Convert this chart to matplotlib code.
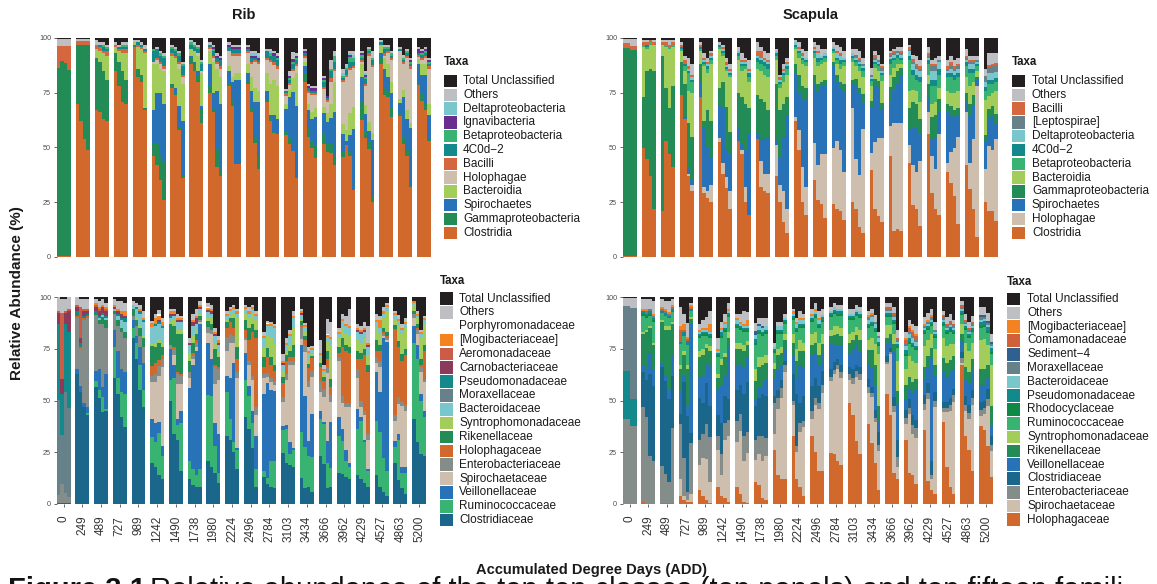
import numpy as np
import matplotlib
matplotlib.use("Agg")
import matplotlib.pyplot as plt
from matplotlib.patches import Rectangle

plt.rcParams["font.family"] = ["Liberation Sans", "DejaVu Sans"]

W, H = 1157, 584

add_labels = ["0", "249", "489", "727", "989", "1242", "1490", "1738", "1980", "2224",
              "2496", "2784", "3103", "3434", "3666", "3962", "4229", "4527", "4863", "5200"]

# samples per ADD time point
rib_bars = [4, 4, 4, 4, 4, 4, 4, 4, 4, 4, 4, 4, 4, 4, 4, 4, 4, 4, 4, 4]
scap_bars = [2, 4, 4, 4, 4, 4, 4, 4, 4, 4, 4, 4, 4, 4, 4, 4, 4, 4, 4, 4]

# ---------------- Rib, class level (stack order: bottom -> top) ----------------
rib_c_clostridia = [0.5,0.5,0.5,0.5, 70,62,54,49, 67,66,63,62, 85,78,71,70, 96,82,80,67, 46,42,35,26, 77,74,58,36, 88,85,80,61, 75,66,41,37, 78,69,42,42, 79,66,52,40, 70,62,56,56, 55,48,45,36, 80,55,50,45, 51,49,47,42, 48,52,47,31, 63,55,49,25, 88,74,73,64, 65,52,46,32, 80,72,67,53]
rib_c_gamma = [86,89,88,85, 27,35,43,48, 24,23,22,19, 8,11,14,11, 1,4,3,1, 6,10,11,18, 2,1,1,1, 3,3,3,6, 3,1,8,3, 1,3,0,0, 1,2,3,6, 1,2,1,0, 2,3,0,0, 4,4,3,6, 5,4,4,4, 3,0,2,0, 9,3,3,3, 3,3,3,4, 1,3,3,1, 1,3,3,1]
rib_c_spiro = [0,0,0,0, 0,0,0,0, 0,0,0,0, 0,0,0,0, 0,0,0,0, 15,23,29,26, 0,2,10,25, 1,1,2,2, 10,8,27,30, 6,8,38,38, 4,8,16,25, 4,1,7,7, 10,17,25,33, 3,8,10,13, 9,10,12,20, 8,2,8,28, 11,8,5,25, 2,9,6,7, 5,19,14,26, 9,9,13,11]
rib_c_bacteroidia = [0,0,0,0, 0,0,0,0, 4,5,8,11, 3,5,8,12, 1,10,12,25, 21,13,11,15, 13,14,17,17, 3,5,7,15, 6,14,10,12, 2,2,3,3, 4,6,6,5, 8,14,16,15, 2,3,6,15, 2,3,3,4, 3,4,6,14, 5,5,10,10, 6,4,4,3, 4,5,6,5, 2,3,4,2, 2,5,5,5]
rib_c_holophagae = [0,0,0,0, 0,0,0,0, 0,0,0,0, 0,0,0,0, 0,0,0,0, 1,2,2,1, 0,0,2,3, 0,0,1,1, 1,2,2,4, 7,10,8,8, 5,6,12,12, 6,10,7,8, 4,2,3,3, 2,5,8,6, 8,5,10,5, 20,25,20,18, 1,9,30,30, 0,1,5,10, 22,12,24,25, 1,2,3,16]
rib_c_bacilli = [10,7,8,11, 1.5,1.5,1.5,1.5, 2,2,1,2, 1,1,2,2, 0,1,1,1, 0,1,1,1, 1,1,1,1, 0,0,0,0, 1,1,1,1, 0,1,1,1, 1,1,1,1, 1,1,1,1, 1,1,1,1, 1,1,1,1, 1,1,2,1, 1,1,1,1, 1,1,1,1, 0,1,1,1, 0,1,1,1, 1,1,1,1]
rib_c_4c0d2 = [0,0,0,0, 0,0,0,0, 0,1,2,1, 0,1,1,1, 0,1,1,1, 5,4,3,4, 2,2,3,4, 2,2,2,3, 1,2,2,3, 2,2,2,2, 1,2,1,1, 3,2,3,3, 1,1,2,2, 1,1,1,1, 2,1,3,3, 1,2,3,2, 1,2,1,2, 1,2,1,1, 1,1,1,1, 1,1,1,1]
rib_c_beta = [0,0,0,0, 0,0,0,0, 0,0,1,1, 0,0,1,1, 0,0,0,0, 1,0,1,1, 1,1,1,1, 1,1,1,1, 0,1,0,0, 0,0,0,0, 0,0,0,0, 0,1,0,1, 0,1,1,1, 0,0,0,0, 1,0,1,3, 1,1,2,2, 1,1,1,1, 0,1,1,1, 0,1,1,1, 0,1,1,1]
rib_c_ignavi = [0,0,0,0, 0,0,0,0, 0,0,0,0, 0,0,0,0, 0,0,0,0, 0,0,0,0, 0,0,0,0, 0,0,0,0, 0,1,1,1, 1,1,1,1, 1,1,1,1, 0,0,1,1, 0,1,1,1, 1,1,1,1, 1,1,0,0, 0,0,1,0, 1,1,0,0, 0,0,0,0, 0,0,0,1, 2,1,1,1]
rib_c_delta = [0,0,0,0, 0,0,0,0, 0,0,0,0, 0,0,0,0, 0,0,0,0, 0,0,0,0, 0,0,0,0, 0,0,0,0, 0,0,0,0, 0,0,0,0, 0,1,1,1, 0,1,0,0, 0,0,0,0, 0,0,0,0, 0,0,0,0, 1,1,1,1, 0,1,0,0, 0,0,0,0, 0,0,0,0, 0,0,0,0]
rib_c_others = [3,3,3,3, 1,1,1,1, 2,1,1,1, 1,1,1,1, 1,1,1,2, 0,1,1,1, 1,1,1,1, 1,1,1,1, 1,1,1,1, 1,1,1,1, 1,1,1,1, 1,1,1,1, 1,2,3,1, 1,1,1,1, 1,0,4,2, 2,1,1,2, 1,1,1,3, 1,1,1,1, 1,1,1,1, 1,1,1,1]
rib_c_unclass = [0.5,0.5,0.5,0.5, 0.5,0.5,0.5,0.5, 1,2,2,3, 2,3,2,2, 1,1,2,3, 5,4,6,7, 3,4,6,11, 1,2,3,10, 2,3,7,8, 2,3,3,3, 3,6,6,7, 5,5,6,7, 23,14,6,7, 5,21,22,22, 17,27,10,6, 15,12,6,6, 6,15,4,6, 1,3,3,6, 4,8,5,9, 4,5,4,9]

# ---------------- Scapula, class level ----------------
scap_c_clostridia = [0.5,0.5, 50,45,37,22, 21,53,47,41, 74,63,37,30, 73,29,27,25, 53,38,31,22, 53,47,25,19, 54,32,30,29, 37,25,16,11, 62,49,25,19, 35,26,24,18, 24,22,21,17, 25,22,14,11, 40,22,19,16, 47,12,13,12, 43,24,22,14, 56,29,22,19, 39,34,28,15, 42,31,22,9, 25,21,21,17]
scap_c_holophagae = [0,0, 0,0,0,0, 0,0,0,0, 0,0,1,3, 0,3,3,8, 2,5,5,8, 0,2,7,0, 0,12,8,9, 14,8,14,11, 2,9,16,13, 17,16,23,29, 26,31,28,22, 43,23,24,48, 8,31,36,39, 14,50,49,50, 8,19,17,30, 10,17,18,37, 4,14,22,40, 24,12,32,69, 15,29,28,39]
scap_c_spiro = [0,0, 0,0,0,0, 0,0,0,0, 0,1,3,2, 7,27,20,12, 15,25,13,17, 6,3,17,37, 2,10,16,17, 3,12,25,43, 20,17,31,40, 27,34,31,31, 37,27,28,37, 11,34,37,12, 21,26,23,13, 11,15,18,22, 7,17,20,12, 7,8,15,10, 23,17,14,10, 5,22,15,3, 12,13,16,7]
scap_c_gamma = [95,94, 23,41,49,63, 71,24,21,37, 15,15,20,20, 8,3,17,17, 8,12,19,10, 16,21,21,12, 18,18,17,12, 25,22,15,8, 4,8,6,5, 4,3,2,3, 2,3,3,3, 2,3,3,4, 3,3,3,3, 7,6,6,3, 10,12,11,7, 6,10,10,6, 4,4,3,3, 4,5,5,1, 3,4,4,5]
scap_c_bacteroidia = [0,0, 23,10,11,12, 5,19,27,18, 5,6,15,20, 6,25,17,26, 18,12,16,25, 15,12,16,12, 12,13,12,15, 11,10,10,10, 7,8,10,10, 8,8,8,8, 4,5,6,8, 8,6,8,8, 7,5,5,10, 6,4,3,2, 8,6,6,8, 4,6,6,5, 6,6,8,8, 7,8,6,3, 16,6,6,11]
scap_c_beta = [0,0, 1,1,1,0, 0,1,1,1, 1,2,8,5, 1,1,2,2, 1,1,1,1, 2,2,1,2, 3,3,4,4, 2,2,3,3, 1,2,2,2, 2,2,2,2, 1,2,2,2, 2,2,2,3, 2,2,2,3, 5,4,3,2, 14,7,5,9, 5,8,7,6, 6,7,6,6, 5,6,4,2, 4,5,4,4]
scap_c_4c0d2 = [0,0, 0,1,0,0, 0,0,0,0, 1,1,1,1, 1,1,1,1, 1,1,1,1, 1,1,1,2, 2,2,2,2, 1,1,1,1, 1,1,1,1, 1,2,1,1, 1,1,2,1, 1,1,1,1, 1,1,1,1, 2,1,1,1, 2,2,2,2, 2,3,3,3, 2,2,2,2, 2,2,2,1, 2,2,2,2]
scap_c_delta = [0,0, 0,0,0,0, 0,0,0,0, 0,0,1,1, 0,1,1,1, 0,1,1,1, 1,1,1,1, 1,1,1,1, 1,1,1,1, 1,1,1,1, 1,2,1,1, 1,2,2,1, 1,1,1,1, 1,1,1,1, 1,1,1,1, 2,3,3,3, 1,4,4,3, 1,2,2,2, 1,2,2,1, 2,3,3,3]
scap_c_lepto = [0,0, 0,0,0,0, 0,0,0,0, 0,0,0,0, 0,0,0,0, 0,0,0,0, 0,0,0,0, 0,0,0,0, 0,0,0,0, 0,0,0,0, 0,0,0,0, 0,0,0,0, 0,1,1,1, 1,1,1,1, 1,1,1,1, 1,1,1,1, 1,2,2,1, 1,1,1,1, 1,1,1,1, 3,3,3,3]
scap_c_bacilli = [2,2, 1,1,1,1, 1,1,1,1, 1,2,1,1, 1,1,1,1, 0,1,1,1, 0,1,1,1, 2,3,1,1, 0,1,1,1, 0,1,1,0, 1,1,0,0, 0,1,1,0, 0,0,1,0, 0,1,0,1, 1,1,0,1, 1,1,1,1, 1,1,1,0, 1,2,1,1, 1,1,1,0, 0,1,1,1]
scap_c_others = [2,3, 1,1,0,1, 1,1,2,1, 1,2,4,5, 1,2,2,1, 1,1,2,2, 2,3,1,4, 4,2,3,3, 1,1,2,2, 1,2,2,3, 2,3,3,2, 2,3,3,3, 2,3,3,3, 3,2,2,1, 1,1,2,2, 1,2,4,3, 3,2,3,2, 3,3,3,3, 3,2,2,2, 3,5,5,5]
scap_c_unclass = [0.5,0.5, 1,1,1,1, 1,1,1,1, 2,8,9,12, 2,7,9,6, 2,3,9,12, 4,7,9,10, 2,4,6,7, 5,17,12,9, 1,2,5,6, 2,3,5,5, 2,3,4,6, 5,5,6,9, 14,6,8,12, 6,5,4,4, 3,8,8,10, 4,10,9,8, 10,8,10,9, 5,8,8,8, 14,7,7,7]

# ---------------- Rib, family level ----------------
rib_f_clostridiaceae = [0.5,0.5,0.5,0.5, 63,54,47,43, 57,51,45,45, 61,53,42,37, 80,70,55,47, 20,18,14,12, 50,34,31,16, 12,9,8,8, 21,18,15,10, 33,31,25,17, 42,36,27,8, 13,10,8,8, 25,20,19,18, 13,8,8,6, 23,20,8,8, 15,14,13,12, 14,12,10,8, 14,8,6,4, 20,12,8,5, 41,30,24,23]
rib_f_rumino = [0,0,0,0, 0,0,0,1, 3,4,7,1, 15,8,12,16, 5,8,12,8, 13,12,20,11, 10,27,7,23, 9,8,6,9, 32,34,13,5, 21,10,5,9, 18,16,12,9, 3,3,13,13, 11,16,5,8, 23,20,15,17, 18,20,12,9, 18,15,8,6, 22,28,20,8, 26,27,16,12, 8,20,7,10, 37,40,26,19]
rib_f_veillon = [0,0,0,0, 2,3,2,3, 5,10,5,17, 8,13,11,11, 4,3,9,13, 9,9,5,5, 15,6,3,6, 35,50,60,70, 25,18,11,19, 8,20,38,1, 13,5,6,16, 37,47,34,34, 2,2,6,1, 44,25,7,21, 4,1,11,22, 9,6,5,2, 10,2,1,1, 24,19,58,63, 3,3,3,3, 8,7,3,3]
rib_f_spirochaet = [0,0,0,0, 0,0,0,0, 0,0,0,0, 0,0,0,0, 0,0,0,0, 18,20,22,38, 0,5,17,13, 5,3,2,1, 5,12,19,26, 12,17,10,34, 6,10,15,10, 8,3,4,3, 12,22,37,40, 3,22,26,18, 9,13,33,10, 27,12,21,27, 15,5,12,14, 4,12,1,1, 10,15,30,27, 4,5,11,14]
rib_f_entero = [4,9,5,3, 25,18,40,43, 27,22,31,22, 8,12,18,16, 2,5,5,8, 3,4,5,4, 2,3,5,4, 3,2,2,1, 3,2,8,5, 6,4,3,3, 1,2,2,4, 2,2,2,2, 2,3,2,2, 6,3,3,3, 5,4,3,3, 2,3,2,2, 4,3,2,3, 3,3,1,1, 3,3,2,3, 2,2,2,1]
rib_f_holophag = [0,0,0,0, 1,1,1,1, 0,0,0,0, 0,0,0,0, 0,0,0,0, 5,5,3,2, 0,1,1,1, 0,1,1,0, 0,0,1,1, 5,6,4,6, 4,10,21,33, 3,8,6,5, 7,6,2,2, 1,3,6,6, 7,4,4,4, 2,23,25,24, 5,20,27,30, 3,5,1,1, 42,25,20,24, 0,1,1,14]
rib_f_rikenell = [0,0,0,0, 1,1,0,0, 1,2,3,4, 1,3,2,3, 3,3,4,4, 10,8,8,4, 10,10,18,19, 5,5,3,2, 3,3,8,5, 3,2,5,6, 5,6,4,4, 5,4,4,3, 3,3,3,6, 2,2,2,1, 2,2,4,4, 3,4,3,3, 4,3,3,3, 5,3,2,2, 2,3,3,3, 1,2,3,3]
rib_f_syntroph = [0,0,0,0, 0,0,0,0, 0,0,0,0, 0,0,0,0, 0,1,1,1, 1,2,2,2, 1,3,2,2, 4,3,2,1, 2,3,3,3, 1,1,2,14, 3,5,5,5, 5,6,9,10, 3,2,3,8, 1,2,2,1, 3,2,5,16, 4,5,5,5, 5,5,5,5, 6,5,5,10, 3,8,10,10, 3,3,10,10]
rib_f_bacteroid = [0,0,0,0, 0,0,0,0, 0,1,1,1, 1,2,4,5, 2,4,6,7, 8,8,7,7, 2,2,4,4, 4,5,3,2, 2,2,3,3, 2,2,2,2, 2,2,2,2, 4,5,6,8, 3,3,4,5, 2,2,3,2, 1,1,2,3, 2,3,4,4, 4,4,3,4, 3,3,2,2, 2,2,2,2, 1,1,2,2]
rib_f_moraxell = [46,24,49,43, 0,0,0,0, 0,0,0,0, 0,0,0,0, 0,0,0,0, 0,0,0,0, 0,0,0,0, 0,0,0,0, 0,0,0,0, 0,0,0,0, 0,0,0,0, 0,0,0,0, 0,0,0,0, 0,0,0,0, 0,0,0,0, 0,0,0,0, 0,0,0,0, 0,0,0,0, 0,0,0,0, 0,0,0,0]
rib_f_pseudomon = [37,20,33,37, 1,1,1,1, 1,1,1,1, 0,1,1,2, 0,1,1,1, 0,1,1,1, 1,0,0,0, 0,0,0,0, 0,0,0,0, 0,0,0,0, 0,0,0,0, 0,0,0,0, 0,0,0,0, 0,0,0,0, 0,0,0,0, 0,0,0,0, 0,0,0,0, 0,0,0,0, 0,0,0,0, 0,0,0,0]
rib_f_carnobact = [5,7,5,10, 2,2,2,1, 2,2,3,2, 1,1,2,1, 0,0,0,0, 0,0,1,0, 1,1,1,1, 1,2,3,1, 1,1,1,1, 0,0,0,0, 0,0,0,0, 0,0,0,0, 1,0,0,0, 1,0,0,0, 0,0,0,0, 0,0,0,0, 1,1,1,1, 0,0,0,0, 0,0,0,0, 0,0,0,0]
rib_f_aeromon = [1,32,1,1, 1,15,1,1, 1,1,0,1, 0,0,0,0, 0,0,0,0, 0,0,0,0, 0,0,0,0, 0,0,0,0, 0,0,0,0, 0,0,0,0, 0,0,0,0, 0,0,0,0, 0,0,0,0, 0,0,0,0, 0,0,0,0, 0,0,0,0, 0,0,0,0, 0,0,0,0, 0,0,0,0, 0,0,0,0]
rib_f_mogibact = [0,0,0,0, 0,0,0,0, 1,1,1,1, 1,1,1,2, 0,0,1,1, 2,3,2,2, 1,1,1,1, 0,1,1,1, 1,1,1,1, 1,1,1,1, 1,1,1,1, 1,1,1,1, 1,1,1,1, 1,1,1,1, 1,1,1,1, 1,1,1,1, 1,1,1,1, 1,4,1,1, 1,1,1,1, 1,1,1,1]
rib_f_porphyro = [0,0,0,0, 0,0,0,0, 0,0,0,0, 0,0,0,0, 0,0,0,0, 0,0,1,0, 0,0,0,0, 0,0,0,0, 0.5,0,0,0, 0,0,0,0, 0,0,0,0, 0,0.5,0,0, 0,0,0,0, 0,0,0,0, 0,0,0.5,0, 0,0,0,0, 0,0,0,0, 0,0,0,0, 0,0,0,0, 0,0,0,0]
rib_f_others = [7,7,6,6, 4,4,5,5, 2,3,3,2, 3,4,5,4, 2,2,2,3, 1,2,2,2, 1,1,2,1, 2,3,3,2, 2,2,2,2, 1,1,1,1, 1,2,1,1, 2,1,1,1, 3,2,2,2, 1,1,2,1, 6,2,7,7, 2,2,4,8, 2,2,3,8, 3,2,2,1, 1,2,2,2, 0,1,1,1]
rib_f_unclass = [0,1,1,0, 0,1,1,1, 1,2,1,3, 1,2,2,3, 2,3,4,7, 12,8,6,10, 6,6,8,9, 20,8,6,2, 3,4,15,19, 7,5,4,6, 4,5,4,7, 17,12,12,13, 28,20,16,7, 6,13,24,24, 21,34,11,12, 15,8,9,6, 13,14,12,14, 8,9,5,3, 7,9,13,10, 2,7,16,9]

# ---------------- Scapula, family level ----------------
scap_f_holophag = [0,0, 1,0,0,0, 0.5,0.5,0.5,0.5, 4,2,1,1, 7,4,2,0.5, 8,4,3,1, 8,5,1,0.5, 11,9,3,2, 26,14,12,12, 33,12,8,4, 33,25,16,16, 25,24,21,19, 49,43,30,24, 39,30,20,7, 54,44,15,12, 31,15,14,10, 36,11,7,5, 40,18,8,5, 68,33,26,16, 38,37,29,13]
scap_f_spirochaet = [0,0, 0,0,0,0, 0,0,0,0, 8,2,1,4, 12,18,20,10, 18,10,28,32, 22,30,20,24, 11,15,18,21, 8,32,39,52, 15,13,27,33, 8,23,30,38, 35,38,44,42, 11,15,30,36, 15,22,20,19, 15,30,30,6, 8,29,20,22, 10,40,5,42, 5,27,35,45, 1,12,15,32, 5,8,20,13]
scap_f_entero = [41,38, 46,42,23,21, 18,14,10,36, 27,18,4,25, 12,12,17,22, 7,10,8,8, 10,8,12,10, 10,9,12,9, 15,5,5,3, 2,3,4,3, 4,3,3,4, 2,2,2,3, 3,3,3,3, 3,2,2,3, 1,1,3,5, 3,3,4,5, 3,3,2,3, 2,2,3,3, 2,3,3,3, 3,3,3,3]
scap_f_clostridiaceae = [0,0, 17,18,40,36, 48,45,40,25, 5,37,38,5, 20,15,20,15, 10,15,13,10, 15,14,20,24, 17,18,20,20, 3,4,4,2, 13,25,10,12, 12,10,8,7, 4,4,3,3, 3,4,3,3, 4,3,4,6, 3,2,4,8, 4,4,5,4, 4,5,7,4, 3,3,3,3, 3,4,4,4, 4,4,5,4]
scap_f_veillon = [0,0, 3,5,10,8, 2,3,5,10, 11,3,5,54, 10,13,10,20, 12,18,10,25, 12,10,13,12, 3,5,4,8, 8,10,7,6, 9,8,18,14, 15,12,10,8, 12,8,7,10, 7,10,10,8, 8,10,12,5, 6,4,22,18, 5,5,10,15, 8,8,50,8, 15,12,12,10, 5,8,10,10, 8,8,6,5]
scap_f_rikenell = [0,0, 15,18,12,12, 20,22,28,15, 11,10,18,2, 10,10,7,7, 6,10,9,5, 8,7,8,6, 9,10,10,8, 5,7,6,4, 6,8,7,8, 5,5,5,5, 4,5,5,4, 5,4,4,5, 6,8,10,8, 3,3,4,6, 7,6,6,5, 6,5,5,5, 6,7,6,6, 4,6,6,5, 8,8,6,10]
scap_f_syntroph = [0,0, 1,1,1,1, 1,2,2,1, 2,2,2,1, 3,3,2,2, 2,3,2,3, 3,3,3,2, 6,5,4,4, 3,3,3,3, 4,6,5,4, 5,5,6,5, 3,4,4,4, 4,4,4,5, 5,6,10,25, 6,4,5,15, 8,10,10,8, 10,8,7,8, 10,8,7,6, 5,12,10,8, 14,15,10,20]
scap_f_rumino = [0,0, 8,6,5,10, 3,5,4,5, 10,7,10,3, 6,6,4,4, 8,10,10,7, 7,6,6,4, 12,11,10,10, 5,7,6,5, 7,8,6,7, 6,7,7,6, 6,6,5,6, 7,6,5,6, 6,6,6,4, 4,4,5,6, 6,6,7,6, 6,5,4,5, 6,6,6,5, 4,6,6,5, 6,6,6,5]
scap_f_rhodocyc = [0,0, 1,1,1,1, 0,0,0,0, 0,0,0,0, 1,1,1,1, 1,1,1,1, 1,1,1,1, 1,1,1,1, 1,1,1,1, 1,1,1,1, 1,1,1,1, 1,1,1,1, 1,1,1,1, 1,1,1,1, 1,1,1,1, 1,1,1,1, 1,1,1,1, 1,1,1,1, 1,1,1,1, 1,1,1,1]
scap_f_pseudomon = [23,13, 1,1,1,1, 1,1,1,1, 1,2,2,1, 1,1,1,1, 1,2,1,1, 1,1,1,1, 2,1,1,1, 1,1,1,1, 1,1,1,1, 1,1,1,1, 1,1,1,1, 1,1,1,1, 1,1,1,1, 1,1,1,1, 2,2,1,1, 1,1,1,1, 1,1,1,1, 1,1,1,1, 2,2,2,2]
scap_f_bacteroid = [0,0, 0,0,0,0, 0,0,0,0, 0,0,0,0, 1,1,1,1, 1,1,2,1, 2,1,1,1, 2,2,2,2, 1,2,2,1, 1,2,2,2, 1,1,2,1, 1,1,1,1, 1,1,1,1, 2,2,2,2, 1,1,1,1, 2,2,2,2, 1,1,1,1, 1,1,1,1, 1,1,1,1, 1,1,1,1]
scap_f_moraxell = [31,44, 0,1,1,1, 1,1,1,1, 0,0,0,0, 0,0,0,0, 0,0,0,0, 0,0,0,0, 0,0,0,0, 0,0,0,0, 0,0,0,0, 0,0,0,0, 0,0,0,0, 0,0,0,0, 1,1,1,1, 1,1,1,1, 1,1,1,1, 1,1,1,1, 1,1,1,1, 1,1,1,1, 1,1,1,1]
scap_f_sediment4 = [0,0, 0,0,0,0, 0,0,0,0, 0,0,0,0, 0,0,0,0, 0,0,0,0, 0,0,0,0, 2,1,1,0, 0,0,0,0, 0,0,0,0, 0,0,0,0, 0,0,0,0, 0,0,0,0, 0,0,0,0, 0,0,0,0, 0,0,0,0, 0,0,0,0, 0,0,0,0, 0,0,0,0, 1,1,1,1]
scap_f_comamon = [0,0, 0,0,0,0, 0,0,0,0, 6,1,1,1, 0,0,0,0, 0,0,0,0, 0,0,0,0, 0,0,0,0, 0,0,0,0, 0,0,0,0, 0,0,0,0, 0,0,0,0, 0,0,0,0, 0,0,0,0, 1,1,1,1, 2,2,2,2, 0,0,0,0, 1,1,1,1, 1,1,1,1, 0,0,0,0]
scap_f_mogibact = [0,0, 1,1,0,1, 1,1,1,1, 2,3,1,1, 1,1,1,4, 1,1,1,1, 1,1,1,3, 0,0,0,0, 0,0,0,0, 1,1,1,1, 1,1,1,0, 0,0,0,0, 0,0,0,0, 1,1,0,0, 0,0,0,0, 1,1,1,1, 1,1,1,0, 0,0,0,0, 0,0,0,0, 0,0,0,0]
scap_f_others = [4,5, 5,5,5,6, 4,4,5,3, 9,5,7,1, 3,4,5,6, 5,3,4,3, 2,4,6,4, 4,3,4,4, 2,2,2,2, 1,2,3,2, 2,3,3,3, 2,2,2,2, 2,2,2,2, 2,2,3,2, 2,2,3,4, 3,3,3,4, 3,3,3,4, 2,3,3,2, 2,3,3,3, 4,4,4,4]
scap_f_unclass = [0.5,0.5, 1,1,1,2, 1,2,2,1, 5,8,13,3, 13,11,10,7, 20,12,8,3, 8,8,7,7, 13,10,10,10, 22,12,12,8, 6,10,7,8, 6,3,7,6, 5,3,4,4, 6,6,4,5, 7,6,9,17, 3,3,5,16, 17,11,13,14, 10,8,6,12, 7,10,8,11, 2,8,12,9, 5,5,8,18]

# palette
C_UNCL = "#231F20"
C_OTH = "#BEBFC3"
C_DELTA = "#79C6CD"
C_IGNAV = "#6A2C8E"
C_BETA = "#38B371"
C_4C0D = "#13898B"
C_BACIL = "#D4673E"
C_HOLO = "#CDBEAE"
C_BACT = "#A2CD5A"
C_SPIRO = "#2872B8"
C_GAMMA = "#228B56"
C_CLOS = "#D0692B"
C_LEPTO = "#66818A"
C_MOGI = "#F58220"
C_AERO = "#CC5C45"
C_CARNO = "#8B3A5B"
C_CLOSFAM = "#1B678B"
C_ENTERO = "#858D8B"
C_RHODO = "#0F8A46"
C_SED = "#2F6090"
C_COMAM = "#CF603A"

# (name, values, colour) bottom -> top
rib_class = [
    ("Clostridia", rib_c_clostridia, C_CLOS),
    ("Gammaproteobacteria", rib_c_gamma, C_GAMMA),
    ("Spirochaetes", rib_c_spiro, C_SPIRO),
    ("Bacteroidia", rib_c_bacteroidia, C_BACT),
    ("Holophagae", rib_c_holophagae, C_HOLO),
    ("Bacilli", rib_c_bacilli, C_BACIL),
    ("4C0d\u22122", rib_c_4c0d2, C_4C0D),
    ("Betaproteobacteria", rib_c_beta, C_BETA),
    ("Ignavibacteria", rib_c_ignavi, C_IGNAV),
    ("Deltaproteobacteria", rib_c_delta, C_DELTA),
    ("Others", rib_c_others, C_OTH),
    ("Total Unclassified", rib_c_unclass, C_UNCL),
]
scap_class = [
    ("Clostridia", scap_c_clostridia, C_CLOS),
    ("Holophagae", scap_c_holophagae, C_HOLO),
    ("Spirochaetes", scap_c_spiro, C_SPIRO),
    ("Gammaproteobacteria", scap_c_gamma, C_GAMMA),
    ("Bacteroidia", scap_c_bacteroidia, C_BACT),
    ("Betaproteobacteria", scap_c_beta, C_BETA),
    ("4C0d\u22122", scap_c_4c0d2, C_4C0D),
    ("Deltaproteobacteria", scap_c_delta, C_DELTA),
    ("[Leptospirae]", scap_c_lepto, C_LEPTO),
    ("Bacilli", scap_c_bacilli, C_BACIL),
    ("Others", scap_c_others, C_OTH),
    ("Total Unclassified", scap_c_unclass, C_UNCL),
]
rib_family = [
    ("Clostridiaceae", rib_f_clostridiaceae, C_CLOSFAM),
    ("Ruminococcaceae", rib_f_rumino, C_BETA),
    ("Veillonellaceae", rib_f_veillon, C_SPIRO),
    ("Spirochaetaceae", rib_f_spirochaet, C_HOLO),
    ("Enterobacteriaceae", rib_f_entero, C_ENTERO),
    ("Holophagaceae", rib_f_holophag, C_CLOS),
    ("Rikenellaceae", rib_f_rikenell, C_GAMMA),
    ("Syntrophomonadaceae", rib_f_syntroph, C_BACT),
    ("Bacteroidaceae", rib_f_bacteroid, C_DELTA),
    ("Moraxellaceae", rib_f_moraxell, C_LEPTO),
    ("Pseudomonadaceae", rib_f_pseudomon, C_4C0D),
    ("Carnobacteriaceae", rib_f_carnobact, C_CARNO),
    ("Aeromonadaceae", rib_f_aeromon, C_AERO),
    ("[Mogibacteriaceae]", rib_f_mogibact, C_MOGI),
    ("Porphyromonadaceae", rib_f_porphyro, "#FFFFFF"),
    ("Others", rib_f_others, C_OTH),
    ("Total Unclassified", rib_f_unclass, C_UNCL),
]
scap_family = [
    ("Holophagaceae", scap_f_holophag, C_CLOS),
    ("Spirochaetaceae", scap_f_spirochaet, C_HOLO),
    ("Enterobacteriaceae", scap_f_entero, C_ENTERO),
    ("Clostridiaceae", scap_f_clostridiaceae, C_CLOSFAM),
    ("Veillonellaceae", scap_f_veillon, C_SPIRO),
    ("Rikenellaceae", scap_f_rikenell, C_GAMMA),
    ("Syntrophomonadaceae", scap_f_syntroph, C_BACT),
    ("Ruminococcaceae", scap_f_rumino, C_BETA),
    ("Rhodocyclaceae", scap_f_rhodocyc, C_RHODO),
    ("Pseudomonadaceae", scap_f_pseudomon, C_4C0D),
    ("Bacteroidaceae", scap_f_bacteroid, C_DELTA),
    ("Moraxellaceae", scap_f_moraxell, C_LEPTO),
    ("Sediment\u22124", scap_f_sediment4, C_SED),
    ("Comamonadaceae", scap_f_comamon, C_COMAM),
    ("[Mogibacteriaceae]", scap_f_mogibact, C_MOGI),
    ("Others", scap_f_others, C_OTH),
    ("Total Unclassified", scap_f_unclass, C_UNCL),
]

GROUP_W = 0.74
TICK_GREY = "#4D4D4D"


def px_rect(x0, y0, x1, y1):
    return [x0 / W, 1 - y1 / H, (x1 - x0) / W, (y1 - y0) / H]


def draw_panel(ax, layers, bars_per_group, show_x):
    xs, ws = [], []
    for g, n in enumerate(bars_per_group):
        bw = GROUP_W / n
        for i in range(n):
            xs.append(g - GROUP_W / 2 + (i + 0.5) * bw)
            ws.append(bw)
    xs = np.array(xs)
    ws = np.array(ws)
    vals = np.array([np.asarray(v, dtype=float) for _, v, _ in layers])
    pct = vals / vals.sum(axis=0) * 100.0
    bottom = np.zeros(len(xs))
    for (name, _, col), h in zip(layers, pct):
        ax.bar(xs, h, width=ws, bottom=bottom, color=col, linewidth=0,
               align="center", antialiased=False)
        bottom += h
    ax.set_xlim(-GROUP_W / 2, len(bars_per_group) - 1 + GROUP_W / 2)
    ax.set_ylim(0, 100)
    for s in ax.spines.values():
        s.set_visible(False)
    ax.set_yticks([0, 25, 50, 75, 100])
    ax.set_yticklabels(["0", "25", "50", "75", "100"])
    ax.tick_params(axis="y", length=2.5, width=0.6, color=TICK_GREY,
                   labelsize=5.2, labelcolor=TICK_GREY, pad=1.5)
    ax.set_xticks(range(len(bars_per_group)))
    if show_x:
        ax.set_xticklabels(add_labels, rotation=90, fontsize=8.5, color="#333333")
        ax.tick_params(axis="x", length=2.5, width=0.6, color=TICK_GREY, pad=6)
    else:
        ax.set_xticklabels([])
        ax.tick_params(axis="x", length=0)


def draw_legend(fig, layers, x_sw, y_title, y_first, step, x_text):
    fig.text(x_sw / W, 1 - y_title / H, "Taxa", fontsize=8.3, fontweight="bold",
             ha="left", va="center", color="#1A1A1A")
    sw = 12.6
    for k, (name, _, col) in enumerate(reversed(layers)):
        yc = y_first + k * step
        fig.patches.append(Rectangle((x_sw / W, 1 - (yc + sw / 2) / H), sw / W, sw / H,
                                     transform=fig.transFigure, facecolor=col,
                                     edgecolor="none"))
        fig.text(x_text / W, 1 - yc / H, name, fontsize=8.5, ha="left",
                 va="center", color="#1A1A1A")


fig = plt.figure(figsize=(W / 100, H / 100), dpi=100)

ax_tl = fig.add_axes(px_rect(56.7, 38, 431, 257))
ax_tr = fig.add_axes(px_rect(622.7, 38, 998, 257))
ax_bl = fig.add_axes(px_rect(56.7, 297, 426, 504))
ax_br = fig.add_axes(px_rect(622.7, 297, 993, 504))

draw_panel(ax_tl, rib_class, rib_bars, False)
draw_panel(ax_tr, scap_class, scap_bars, False)
draw_panel(ax_bl, rib_family, rib_bars, True)
draw_panel(ax_br, scap_family, scap_bars, True)

ax_tl.set_title("Rib", fontsize=10.5, fontweight="bold", pad=14, color="#1A1A1A")
ax_tr.set_title("Scapula", fontsize=10.5, fontweight="bold", pad=14, color="#1A1A1A")

draw_legend(fig, rib_class, 444, 62, 81, 13.8, 463)
draw_legend(fig, scap_class, 1012, 62, 81, 13.8, 1032)
draw_legend(fig, rib_family, 440, 281, 298.5, 13.85, 459)
draw_legend(fig, scap_family, 1007, 282, 299, 13.8, 1027)

fig.text(17 / W, 1 - 293 / H, "Relative Abundance (%)", rotation=90, fontsize=11,
         fontweight="bold", ha="center", va="center", color="#1A1A1A")
fig.text(592 / W, 1 - 570 / H, "Accumulated Degree Days (ADD)", fontsize=10.5,
         fontweight="bold", ha="center", va="center", color="#1A1A1A")

# caption line running off the bottom edge of the figure
fig.text(8 / W, 1 - 576 / H, "Figure 3.1", fontsize=21, fontweight="bold",
         ha="left", va="top", color="#111111")
fig.text(150 / W, 1 - 576 / H,
         "Relative abundance of the top ten classes (top panels) and top fifteen famili",
         fontsize=21, ha="left", va="top", color="#111111")

fig.savefig("out.png", dpi=100, facecolor="white")
